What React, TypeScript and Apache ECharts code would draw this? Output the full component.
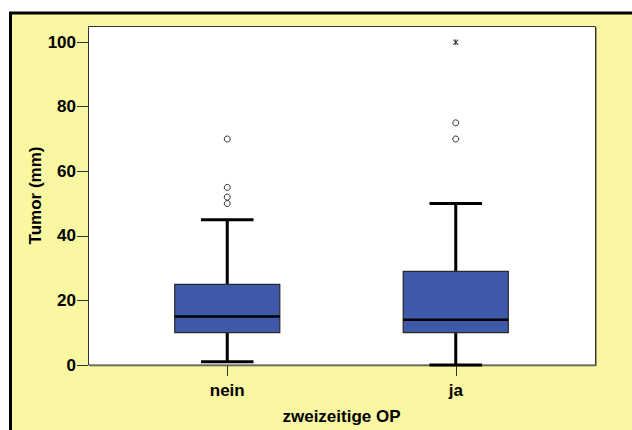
import React, { useEffect, useRef } from "react";
import * as echarts from "echarts";

const categories = ["nein", "ja"];
// per category: [min, Q1, median, Q3, max]
const boxMin = [1, 0];
const boxQ1 = [10, 10];
const boxMedian = [15, 14];
const boxQ3 = [25, 29];
const boxMax = [45, 50];
const outlierCats = ["nein", "nein", "nein", "nein", "ja", "ja"];
const outlierValues = [70, 55, 52, 50, 75, 70];
const extremeCats = ["ja"];
const extremeValues = [100];
const yTickValues = [0, 20, 40, 60, 80, 100];
const yMax = 105;

const FONT = "'Liberation Sans', Arial, sans-serif";
const STAR =
  "path://M4.5,0 L5.5,0 L5.5,10 L4.5,10 Z M2.07,0.92 L2.93,0.42 L7.93,9.08 L7.07,9.58 Z M7.07,0.42 L7.93,0.92 L2.93,9.58 L2.07,9.08 Z";

export default function App() {
  const ref = useRef<HTMLDivElement>(null);
  useEffect(() => {
    if (!ref.current) return;
    const chart = echarts.init(ref.current, undefined, { renderer: "svg" });
    const boxData = categories.map((_, i) => [
      i,
      boxMin[i],
      boxQ1[i],
      boxMedian[i],
      boxQ3[i],
      boxMax[i],
    ]);
    const black = { stroke: "#000", lineWidth: 3 };
    const textStyle = {
      fontFamily: FONT,
      fontSize: 17,
      fontWeight: "bold",
      color: "#000",
    };
    chart.setOption({
      animation: false,
      backgroundColor: "#fff",
      graphic: [
        {
          type: "rect",
          z: 0,
          shape: { x: 10.5, y: 13, width: 700, height: 500 },
          style: { fill: "#F9F7A1", stroke: "#000", lineWidth: 3 },
        },
        {
          type: "rect",
          z: 1,
          shape: { x: 88.5, y: 26.5, width: 507, height: 338.5 },
          style: {
            fill: "#fff",
            stroke: "#333",
            lineWidth: 1,
            shadowColor: "rgba(0,0,0,0.35)",
            shadowOffsetX: 1,
            shadowOffsetY: 1,
          },
        },
      ],
      grid: { left: 113, right: 62, top: 26, bottom: 65 },
      xAxis: {
        type: "category",
        data: categories,
        z: 5,
        axisLine: { show: false },
        axisTick: {
          show: true,
          alignWithLabel: true,
          length: 11,
          lineStyle: { color: "#333", width: 1 },
        },
        axisLabel: { margin: 17, ...textStyle },
        name: "zweizeitige OP",
        nameLocation: "middle",
        nameGap: 43,
        nameMoveOverlap: false,
        nameTextStyle: textStyle,
        splitLine: { show: false },
      },
      yAxis: {
        type: "value",
        min: 0,
        max: yMax,
        offset: 25,
        z: 5,
        axisLine: { show: false },
        axisTick: {
          show: true,
          length: 11,
          customValues: yTickValues,
          lineStyle: { color: "#333", width: 1 },
        },
        axisLabel: { margin: 12, customValues: yTickValues, ...textStyle },
        splitLine: { show: false },
        name: "Tumor (mm)",
        nameLocation: "middle",
        nameGap: 44,
        nameMoveOverlap: false,
        nameTextStyle: textStyle,
      },
      series: [
        {
          type: "custom",
          z: 10,
          data: boxData,
          encode: { x: 0, y: [1, 2, 3, 4, 5] },
          renderItem: (params: any, api: any) => {
            const ci = api.value(0);
            const lo = api.coord([ci, api.value(1)]);
            const q1 = api.coord([ci, api.value(2)]);
            const med = api.coord([ci, api.value(3)]);
            const q3 = api.coord([ci, api.value(4)]);
            const hi = api.coord([ci, api.value(5)]);
            const band = api.size([1, 0])[0];
            const bw = band * 0.46;
            const cw = bw / 2;
            const x = lo[0];
            return {
              type: "group",
              children: [
                { type: "line", shape: { x1: x, y1: hi[1], x2: x, y2: q3[1] }, style: black },
                { type: "line", shape: { x1: x, y1: q1[1], x2: x, y2: lo[1] }, style: black },
                { type: "line", shape: { x1: x - cw / 2, y1: hi[1], x2: x + cw / 2, y2: hi[1] }, style: black },
                { type: "line", shape: { x1: x - cw / 2, y1: lo[1], x2: x + cw / 2, y2: lo[1] }, style: black },
                {
                  type: "rect",
                  shape: { x: x - bw / 2, y: q3[1], width: bw, height: q1[1] - q3[1] },
                  style: { fill: "#3F59A9", stroke: "#2a2a2a", lineWidth: 1.2 },
                },
                {
                  type: "line",
                  shape: { x1: x - bw / 2, y1: med[1], x2: x + bw / 2, y2: med[1] },
                  style: { stroke: "#000", lineWidth: 2.5 },
                },
              ],
            };
          },
        },
        {
          type: "scatter",
          z: 11,
          symbol: "circle",
          symbolSize: 6,
          itemStyle: { color: "#fff", borderColor: "#000", borderWidth: 1 },
          data: outlierCats.map((c, i) => [c, outlierValues[i]]),
        },
        {
          type: "scatter",
          z: 11,
          symbol: STAR,
          symbolSize: 6,
          itemStyle: { color: "#000" },
          data: extremeCats.map((c, i) => [c, extremeValues[i]]),
        },
      ],
    });
    return () => chart.dispose();
  }, []);
  return (
    <div
      ref={ref}
      style={{ position: "absolute", left: 0, top: 0, width: 632, height: 430 }}
    />
  );
}
